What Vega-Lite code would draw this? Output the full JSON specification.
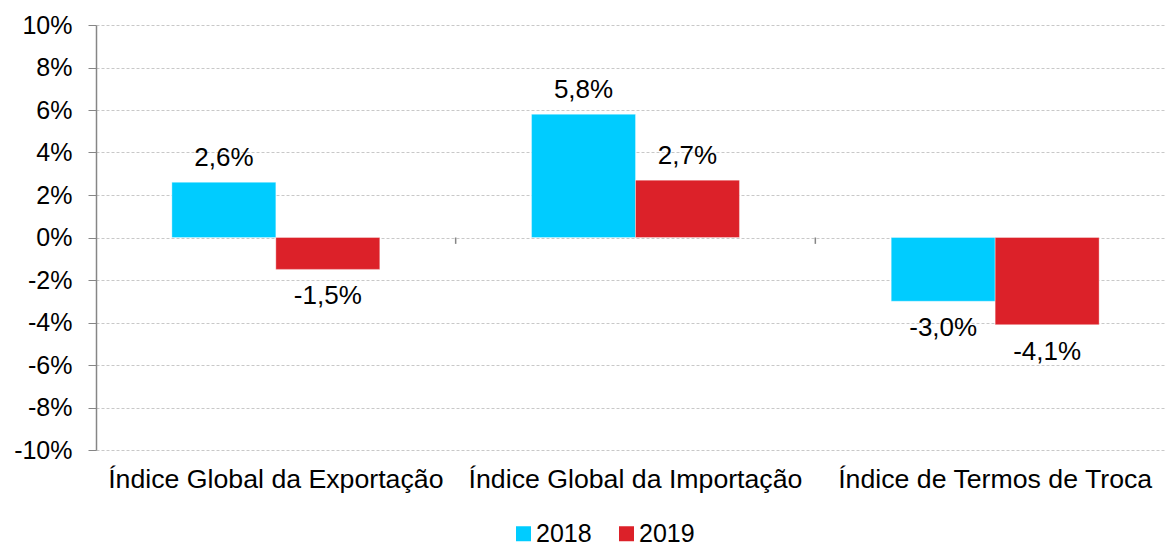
{
  "$schema": "https://vega.github.io/schema/vega-lite/v6.json",
  "width": 1079,
  "height": 425,
  "autosize": {"type": "none"},
  "padding": {"left": 96, "top": 25, "right": 0, "bottom": 96},
  "background": "white",
  "config": {
    "locale": {"number": {"decimal": ",", "thousands": ".", "grouping": [3], "currency": ["", " €"], "minus": "-"}},
    "font": "Liberation Sans",
    "view": {"stroke": null}
  },
  "data": {
    "values": [
      {"categoria": "Índice Global da Exportação", "ano": "2018", "valor": 0.026},
      {"categoria": "Índice Global da Exportação", "ano": "2019", "valor": -0.015},
      {"categoria": "Índice Global da Importação", "ano": "2018", "valor": 0.058},
      {"categoria": "Índice Global da Importação", "ano": "2019", "valor": 0.027},
      {"categoria": "Índice de Termos de Troca", "ano": "2018", "valor": -0.030},
      {"categoria": "Índice de Termos de Troca", "ano": "2019", "valor": -0.041}
    ]
  },
  "encoding": {
    "x": {
      "field": "categoria",
      "type": "nominal",
      "sort": null,
      "scale": {"paddingInner": 0, "paddingOuter": 0},
      "axis": {
        "title": null,
        "labelAngle": 0,
        "labelFontSize": 26.7,
        "labelLimit": 0,
        "labelColor": "#000000",
        "labelPadding": 16,
        "ticks": false,
        "domain": false
      }
    }
  },
  "layer": [
    {
      "mark": {"type": "bar", "stroke": "#ffffff", "strokeOpacity": 0.35, "strokeWidth": 1},
      "encoding": {
        "xOffset": {"field": "ano", "type": "nominal", "scale": {"paddingInner": 0, "paddingOuter": 0.73}},
        "y": {
          "field": "valor",
          "type": "quantitative",
          "scale": {"domain": [-0.1, 0.1], "nice": false, "zero": false},
          "axis": {
            "title": null,
            "format": ".0%",
            "values": [-0.1, -0.08, -0.06, -0.04, -0.02, 0, 0.02, 0.04, 0.06, 0.08, 0.1],
            "labelFontSize": 25,
            "labelColor": "#000000",
            "labelPadding": 16,
            "tickSize": 8,
            "tickColor": "#868686",
            "domainColor": "#868686",
            "domainWidth": 1.5,
            "gridColor": "#c8c8c8",
            "gridDash": [3, 2],
            "gridWidth": 1
          }
        },
        "color": {
          "field": "ano",
          "type": "nominal",
          "scale": {"domain": ["2018", "2019"], "range": ["#00ccff", "#dc2129"]},
          "legend": {
            "title": null,
            "orient": "none",
            "direction": "horizontal",
            "legendX": 415,
            "legendY": 496,
            "symbolType": "square",
            "symbolSize": 225,
            "symbolStrokeWidth": 0,
            "labelFontSize": 25,
            "labelColor": "#000000",
            "labelOffset": 0,
            "columnPadding": 22
          }
        }
      }
    },
    {
      "mark": {"type": "rule", "color": "#868686", "strokeWidth": 1.5},
      "encoding": {"y": {"datum": 0}}
    },
    {
      "transform": [{"filter": "datum.categoria !== 'Índice Global da Exportação' && datum.ano === '2018'"}],
      "mark": {"type": "rule", "color": "#868686", "strokeWidth": 1.5},
      "encoding": {
        "x": {"field": "categoria", "type": "nominal", "sort": null, "bandPosition": 0},
        "y": {"datum": 0},
        "y2": {"datum": -0.003}
      }
    },
    {
      "transform": [{"filter": "datum.valor >= 0"}],
      "mark": {"type": "text", "fontSize": 26, "color": "#000000", "baseline": "alphabetic", "dy": -16},
      "encoding": {
        "xOffset": {"field": "ano", "type": "nominal", "scale": {"paddingInner": 0, "paddingOuter": 0.73}},
        "y": {"field": "valor", "type": "quantitative"},
        "text": {"field": "valor", "type": "quantitative", "format": ".1%"}
      }
    },
    {
      "transform": [{"filter": "datum.valor < 0"}],
      "mark": {"type": "text", "fontSize": 26, "color": "#000000", "baseline": "alphabetic", "dy": 35},
      "encoding": {
        "xOffset": {"field": "ano", "type": "nominal", "scale": {"paddingInner": 0, "paddingOuter": 0.73}},
        "y": {"field": "valor", "type": "quantitative"},
        "text": {"field": "valor", "type": "quantitative", "format": ".1%"}
      }
    }
  ]
}
